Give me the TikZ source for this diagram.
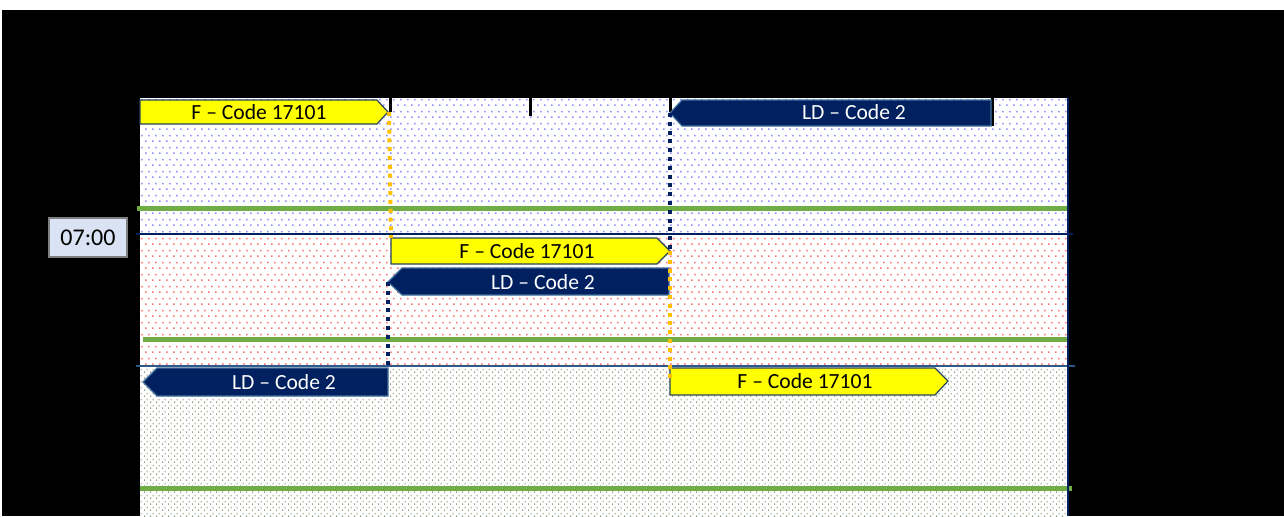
\documentclass[tikz,border=0pt]{standalone}
\usepackage{fontspec}
\setmainfont{Carlito}
\usetikzlibrary{patterns}
\definecolor{navy}{HTML}{002060}
\definecolor{gold}{HTML}{FFC000}
\definecolor{barlime}{HTML}{FFFF00}
\definecolor{leaf}{HTML}{70AD47}
\definecolor{edge}{HTML}{41719C}
\definecolor{timefill}{HTML}{DAE3F3}
\pgfdeclarepatternformonly{sparsedots}{\pgfpointorigin}{\pgfpoint{3.3pt}{5.8pt}}{\pgfpoint{3.3pt}{5.8pt}}{%
	\pgfpathrectangle{\pgfpoint{0pt}{0pt}}{\pgfpoint{0.8pt}{0.8pt}}%
	\pgfpathrectangle{\pgfpoint{1.65pt}{2.9pt}}{\pgfpoint{0.8pt}{0.8pt}}%
	\pgfusepath{fill}}
\pgfdeclarepatternformonly{densedots}{\pgfpointorigin}{\pgfpoint{3pt}{3pt}}{\pgfpoint{3pt}{3pt}}{%
	\pgfpathrectangle{\pgfpoint{0pt}{0pt}}{\pgfpoint{0.6pt}{0.9pt}}%
	\pgfpathrectangle{\pgfpoint{1.5pt}{1.5pt}}{\pgfpoint{0.6pt}{0.9pt}}%
	\pgfusepath{fill}}
\begin{document}
\begin{tikzpicture}[x=0.5pt,y=-0.5pt,>=latex,
	fbar/.style={fill=barlime,draw=edge!60!black,line width=0.6pt},
	ldbar/.style={fill=navy,draw=edge,line width=0.6pt},
	ftext/.style={text=black,font=\fontsize{10.8}{12}\selectfont,inner sep=0pt},
	ldtext/.style={text=white,font=\fontsize{10.8}{12}\selectfont,inner sep=0pt},
	golddots/.style={gold,line width=2pt,dash pattern=on 2pt off 2.4pt},
	navydots/.style={navy,line width=2pt,dash pattern=on 2pt off 2.4pt},
	shiftline/.style={leaf,line width=2.5pt},
	hourtick/.style={black,line width=1.5pt}]
		\useasboundingbox (0,0) rectangle (1284,516);
		\fill [white] (0,0) rectangle (1284,516);
		\fill [black] (2,10) rectangle (1284,516);
		% Fasce
		\fill [white] (140,98) rectangle (1068,516);
		\fill [pattern=sparsedots,pattern color=blue!45] (140,98) rectangle (1068,234);
		\fill [pattern=sparsedots,pattern color=red!55] (140,234) rectangle (1068,366);
		\fill [pattern=densedots,pattern color=leaf!50!black!55] (140,366) rectangle (1068,516);
		% Linee
		\draw [shiftline] (137,208) -- (1068,208);
		\draw [navy,line width=1.2pt] (136,234) -- (1073,234);
		\draw [shiftline] (143,339) -- (1068,339);
		\draw [edge!70!navy,line width=0.7pt] (136,366) -- (1075,366);
		\draw [shiftline] (140,488) -- (1072,488);
		\draw [navy,line width=0.7pt] (1068,98) -- (1068,516);
		% Tacche
		\foreach \x/\y in {390/112,530/116,670/112,992/126}
			\draw [hourtick] (\x,98) -- (\x,\y);
		% Ora
		\node [draw=gray,line width=0.6pt,fill=timefill,minimum width=39pt,minimum height=19.5pt,inner sep=0pt,font=\fontsize{12}{14}\selectfont] (clock) at (88,237.5) {07:00};
		% Barre fascia 1
		\draw [fbar] (140,100) -- (377,100) -- (388,112) -- (377,124) -- (140,124) -- cycle;
		\coordinate (fa tip) at (389,112);
		\node [ftext] (fa) at (259,112) {F – Code 17101};
		\draw [ldbar] (670,113) -- (682,100) -- (991,100) -- (991,126) -- (682,126) -- cycle;
		\coordinate (la tip) at (670,113);
		\node [ldtext] (la) at (854,112) {LD – Code 2};
		% Barre fascia 2
		\draw [fbar] (391,238) -- (657,238) -- (670,251) -- (657,264) -- (391,264) -- cycle;
		\coordinate (fb start) at (391,238);
		\coordinate (fb tip) at (670,251);
		\node [ftext] (fb) at (527,251) {F – Code 17101};
		\draw [ldbar] (388,282) -- (402,268) -- (669,268) -- (669,295) -- (402,295) -- cycle;
		\coordinate (lb tip) at (388,282);
		\node [ldtext] (lb) at (543,282) {LD – Code 2};
		% Barre fascia 3
		\draw [ldbar] (143,382) -- (157,368) -- (388,368) -- (388,396) -- (157,396) -- cycle;
		\coordinate (lc end) at (388,368);
		\node [ldtext] (lc) at (284,382) {LD – Code 2};
		\draw [fbar] (670,368) -- (935,368) -- (948,381) -- (935,395) -- (670,395) -- cycle;
		\coordinate (fc start) at (670,381);
		\node [ftext] (fc) at (805,381) {F – Code 17101};
		% Collegamenti
		\draw [golddots] (fa tip) -- (fb start);
		\draw [navydots] (la tip) -- (fb tip);
		\draw [navydots] (lb tip) -- (lc end);
		\draw [golddots] (fb tip) -- (fc start);
	\end{tikzpicture}
\end{document}
